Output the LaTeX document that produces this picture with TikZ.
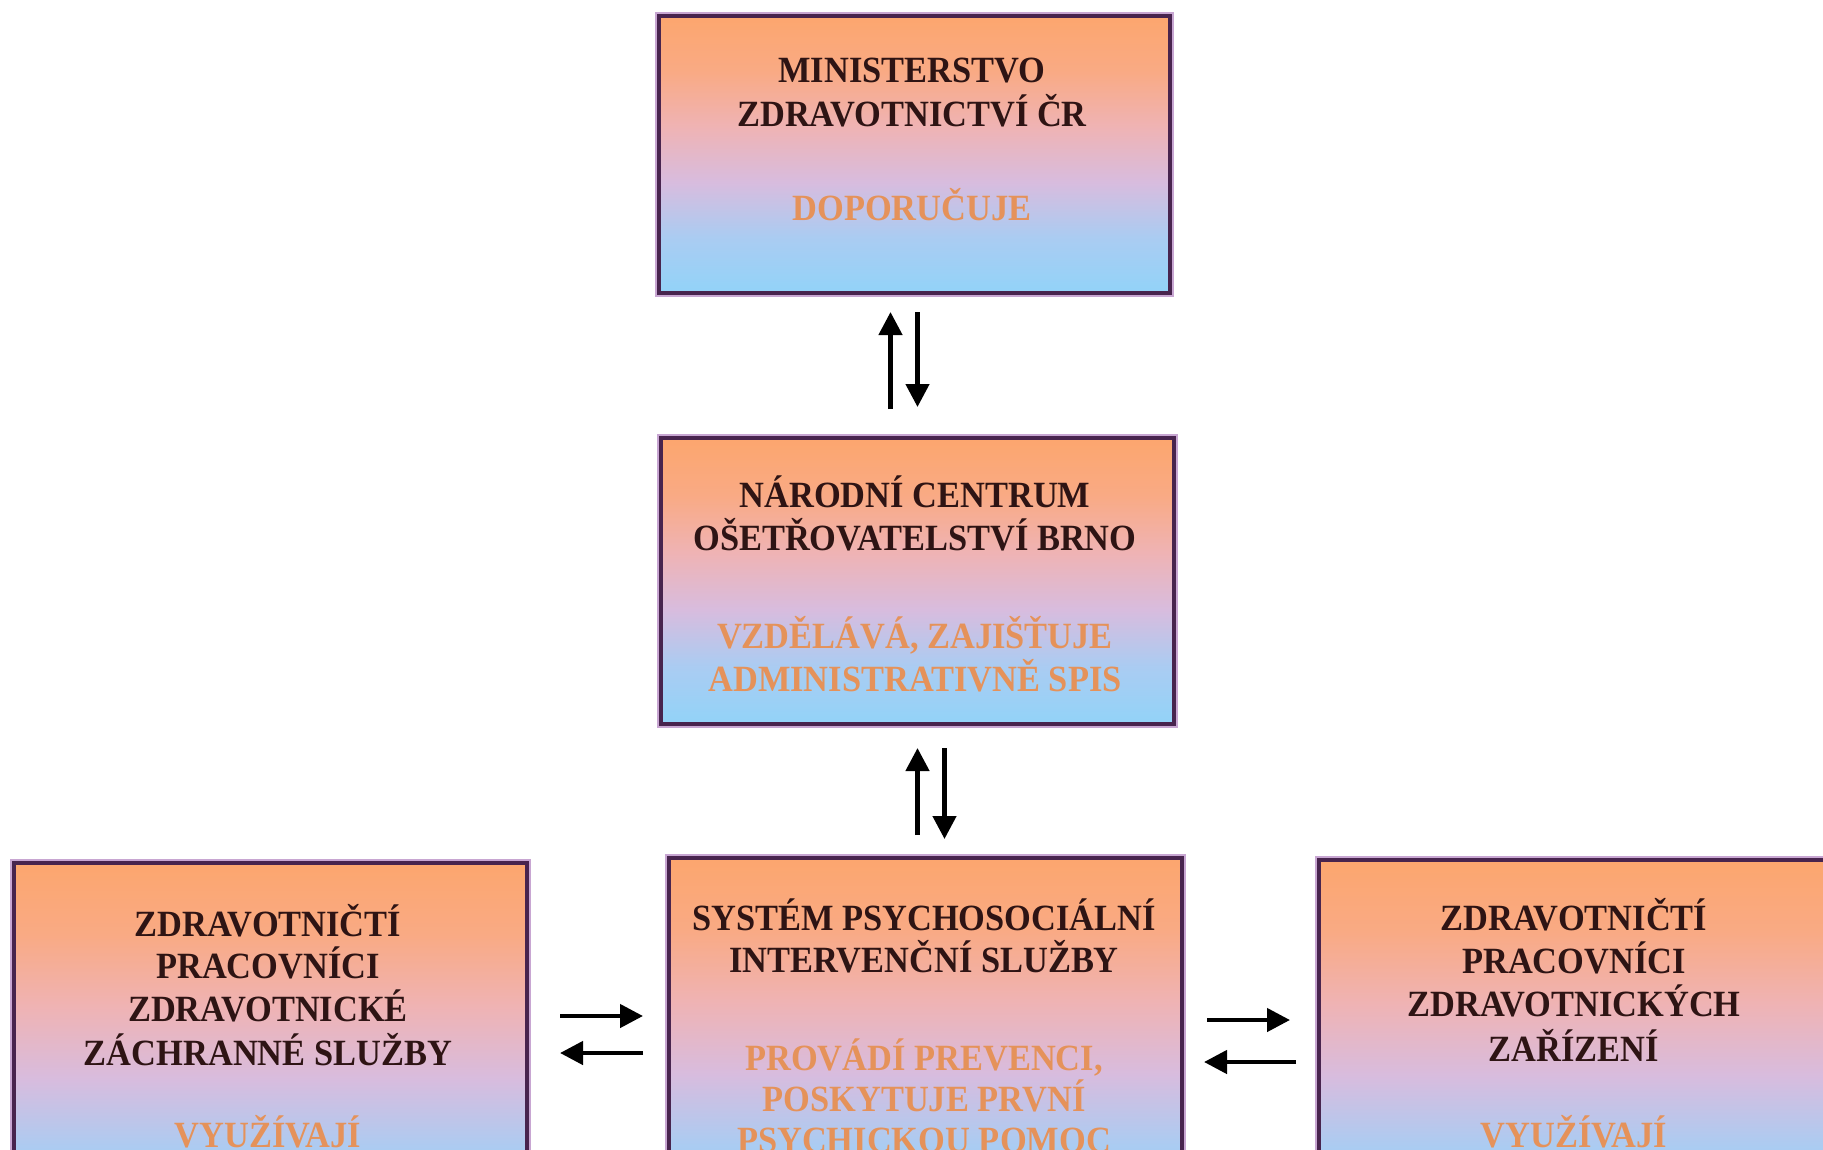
\documentclass[tikz,border=0pt]{standalone}
\usepackage{fontspec}
\setmainfont{Liberation Serif}[FakeStretch=0.93]
\usetikzlibrary{arrows.meta}
\definecolor{boxtop}{HTML}{FCA66E}
\definecolor{boxora}{HTML}{F9AA84}
\definecolor{boxpink}{HTML}{EFB3B4}
\definecolor{boxlav}{HTML}{D8BCDE}
\definecolor{boxsky}{HTML}{AACCF2}
\definecolor{boxbot}{HTML}{92D3F8}
\definecolor{boxline}{HTML}{48244E}
\definecolor{boxglow}{HTML}{C8A6D2}
\definecolor{titlecol}{HTML}{2E1414}
\definecolor{actcol}{HTML}{E5925A}
\pgfdeclareverticalshading{boxgrad}{100bp}{color(0bp)=(boxbot); color(25bp)=(boxbot);
  color(35bp)=(boxsky); color(45bp)=(boxlav); color(55bp)=(boxpink);
  color(65bp)=(boxora); color(75bp)=(boxtop); color(100bp)=(boxtop)}
\begin{document}
\begin{tikzpicture}[x=1pt,y=-1pt,
  box/.style={draw=boxline, line width=4pt, shading=boxgrad,
    minimum width=513pt, minimum height=286pt, inner sep=0pt,
    anchor=north west, preaction={draw=boxglow, line width=8pt}},
  ttl/.style={anchor=base, text=titlecol, inner sep=0pt,
    font=\fontsize{37}{43}\selectfont\bfseries},
  act/.style={ttl, text=actcol},
  arr/.style={line width=4.5pt, -{Triangle[length=23pt,width=23pt]}}]
\useasboundingbox (0,0) rectangle (1823,1149);
\fill[white] (0,0) rectangle (1823,1149);
\clip (0,0) rectangle (1823,1149);

% boxes
\node[box, minimum width=511pt, minimum height=277pt] (b1) at (657,14) {};
\node[box] (b2) at (659,436) {};
\node[box, minimum height=360pt] (b3) at (12,861) {};
\node[box, minimum height=360pt] (b4) at (667,856) {};
\node[box, minimum height=360pt] (b5) at (1317,858) {};

% texts box 1
\node[ttl] (t1a) at (912,82) {MINISTERSTVO};
\node[ttl] (t1b) at (912,126) {ZDRAVOTNICTVÍ ČR};
\node[act] (a1) at (912,220) {DOPORUČUJE};
% box 2
\node[ttl] (t2a) at (915,507) {NÁRODNÍ CENTRUM};
\node[ttl] (t2b) at (915,550) {OŠETŘOVATELSTVÍ BRNO};
\node[act] (a2a) at (915,648) {VZDĚLÁVÁ, ZAJIŠŤUJE};
\node[act] (a2b) at (915,691) {ADMINISTRATIVNĚ SPIS};
% box 3
\node[ttl] (t3a) at (268,936) {ZDRAVOTNIČTÍ};
\node[ttl] (t3b) at (268,978) {PRACOVNÍCI};
\node[ttl] (t3c) at (268,1021) {ZDRAVOTNICKÉ};
\node[ttl] (t3d) at (268,1065) {ZÁCHRANNÉ SLUŽBY};
\node[act] (a3) at (268,1147) {VYUŽÍVAJÍ};
% box 4
\node[ttl] (t4a) at (924,930) {SYSTÉM PSYCHOSOCIÁLNÍ};
\node[ttl] (t4b) at (924,972) {INTERVENČNÍ SLUŽBY};
\node[act] (a4a) at (924,1070) {PROVÁDÍ PREVENCI,};
\node[act] (a4b) at (924,1111) {POSKYTUJE PRVNÍ};
\node[act] (a4c) at (924,1152) {PSYCHICKOU POMOC};
% box 5
\node[ttl] (t5a) at (1574,930) {ZDRAVOTNIČTÍ};
\node[ttl] (t5b) at (1574,973) {PRACOVNÍCI};
\node[ttl] (t5c) at (1574,1016) {ZDRAVOTNICKÝCH};
\node[ttl] (t5d) at (1574,1061) {ZAŘÍZENÍ};
\node[act] (a5) at (1574,1147) {VYUŽÍVAJÍ};

% vertical arrows b1 <-> b2
\coordinate (c1) at ([xshift=-24pt]b1.south);
\draw[arr, shorten <=27pt, shorten >=17pt] (c1 |- b2.north) -- (c1);
\coordinate (c2) at ([xshift=3pt]b1.south);
\draw[arr, shorten <=17pt, shorten >=29pt] (c2) -- (c2 |- b2.north);
% vertical arrows b2 <-> b4
\coordinate (c3) at (b2.south);
\draw[arr, shorten <=21pt, shorten >=22pt] (c3 |- b4.north) -- (c3);
\coordinate (c4) at ([xshift=27pt]b2.south);
\draw[arr, shorten <=22pt, shorten >=17pt] (c4) -- (c4 |- b4.north);
% horizontal arrows b3 <-> b4
\coordinate (p1) at ([yshift=27pt]b3.east);
\draw[arr, shorten <=31pt, shorten >=24pt] (p1) -- (p1 -| b4.west);
\coordinate (p2) at ([yshift=-10pt]b3.east);
\draw[arr, shorten <=24pt, shorten >=31pt] (p2 -| b4.west) -- (p2);
% horizontal arrows b4 <-> b5
\coordinate (q1) at ([yshift=18pt]b4.east);
\draw[arr, shorten <=23pt, shorten >=27pt] (q1) -- (q1 -| b5.west);
\coordinate (q2) at ([yshift=-24pt]b4.east);
\draw[arr, shorten <=21pt, shorten >=20pt] (q2 -| b5.west) -- (q2);
\end{tikzpicture}
\end{document}
